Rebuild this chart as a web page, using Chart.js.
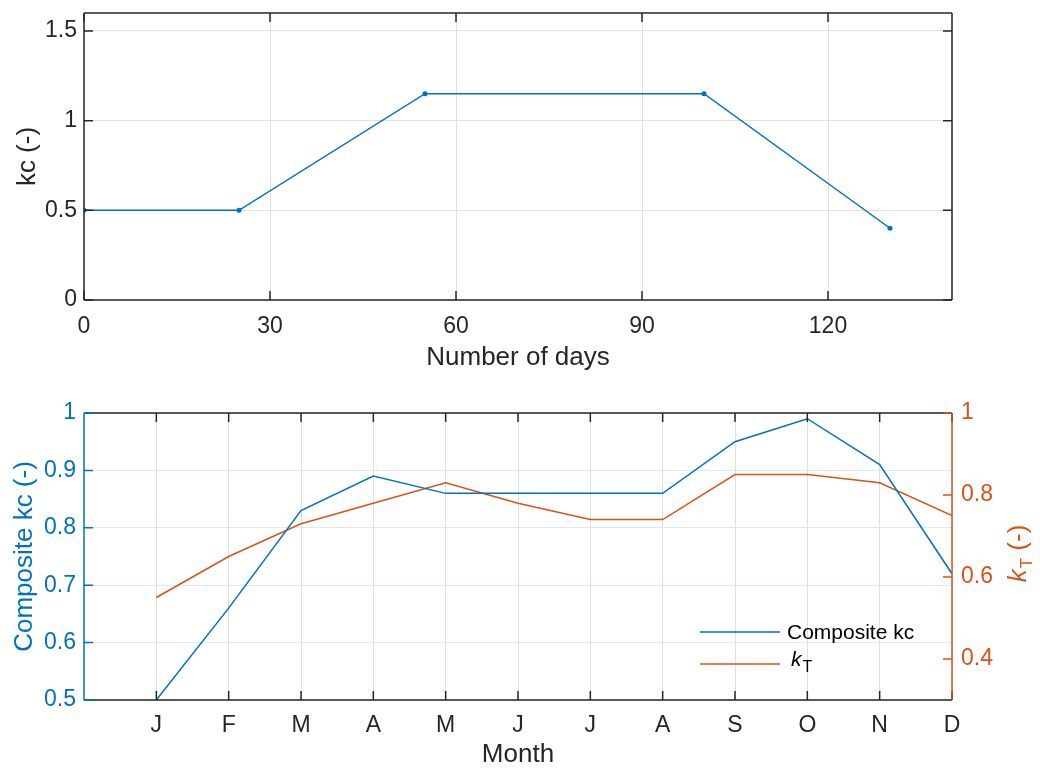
<!DOCTYPE html>
<html>
<head>
<meta charset="utf-8">
<script src="https://cdn.jsdelivr.net/npm/chart.js@4.4.1/dist/chart.umd.min.js"></script>
<style>
  html, body { margin: 0; padding: 0; background: #fff; }
  #wrap { position: relative; width: 1040px; height: 770px; }
  canvas { position: absolute; left: 0; }
  #top { top: 0; }
  #bottom { top: 385px; }
</style>
</head>
<body>
<div id="wrap">
  <canvas id="top" width="1040" height="385"></canvas>
  <canvas id="bottom" width="1040" height="385"></canvas>
</div>
<script>
// top plot - kc curve over the season
const days = [0, 25, 55, 100, 130];
const kc = [0.5, 0.5, 1.15, 1.15, 0.4];
const dayTicks = [0, 30, 60, 90, 120];
const kcTicks = [0, 0.5, 1, 1.5];

// bottom plot - monthly values
const months = ['J', 'F', 'M', 'A', 'M', 'J', 'J', 'A', 'S', 'O', 'N', 'D'];
const compositeKc = [0.5, 0.66, 0.83, 0.89, 0.86, 0.86, 0.86, 0.86, 0.95, 0.99, 0.91, 0.72];
const kT = [0.55, 0.65, 0.73, 0.78, 0.83, 0.78, 0.74, 0.74, 0.85, 0.85, 0.83, 0.75];
const compTicks = [0.5, 0.6, 0.7, 0.8, 0.9, 1];
const kTTicks = [0.4, 0.6, 0.8, 1];

const BLUE = '#0072BD';
const ORANGE = '#D95319';
const AXIS = '#262626';
const FONT = "'Liberation Sans', Arial, Helvetica, sans-serif";

const setTicks = arr => s => { s.ticks = arr.map(v => ({ value: v })); };
// fixed axis size, and no extra padding for the edge labels
const fixSize = (key, val) => s => {
  s[key] = val;
  s.paddingTop = 0; s.paddingBottom = 0; s.paddingLeft = 0; s.paddingRight = 0;
};

// box + inward tick marks, matlab style
const frame = {
  id: 'frame',
  afterDraw(chart, args, opts) {
    const { ctx, chartArea: a, scales } = chart;
    const len = opts.tickLen;
    ctx.save();
    ctx.lineWidth = 1.5;
    opts.sides.forEach(s => {
      const sc = scales[s.scale];
      ctx.strokeStyle = s.color;
      ctx.beginPath();
      if (s.side === 'left') { ctx.moveTo(a.left, a.top); ctx.lineTo(a.left, a.bottom); }
      if (s.side === 'right') { ctx.moveTo(a.right, a.top); ctx.lineTo(a.right, a.bottom); }
      if (s.side === 'top') { ctx.moveTo(a.left, a.top); ctx.lineTo(a.right, a.top); }
      if (s.side === 'bottom') { ctx.moveTo(a.left, a.bottom); ctx.lineTo(a.right, a.bottom); }
      sc.ticks.forEach(t => {
        const p = sc.getPixelForValue(t.value);
        if (s.side === 'left') { ctx.moveTo(a.left, p); ctx.lineTo(a.left + len, p); }
        if (s.side === 'right') { ctx.moveTo(a.right, p); ctx.lineTo(a.right - len, p); }
        if (s.side === 'top') { ctx.moveTo(p, a.top); ctx.lineTo(p, a.top + len); }
        if (s.side === 'bottom') { ctx.moveTo(p, a.bottom); ctx.lineTo(p, a.bottom - len); }
      });
      ctx.stroke();
    });
    ctx.restore();
  }
};

// draws "k" italic with subscript T, returns width
function drawKT(ctx, x, y, size, subSize, rest) {
  ctx.font = 'italic ' + size + 'px ' + FONT;
  ctx.fillText('k', x, y);
  let w = ctx.measureText('k').width + 1;
  ctx.font = subSize + 'px ' + FONT;
  ctx.fillText('T', x + w, y + subSize * 0.35);
  w += ctx.measureText('T').width;
  if (rest) {
    ctx.font = size + 'px ' + FONT;
    ctx.fillText(rest, x + w, y);
    w += ctx.measureText(rest).width;
  }
  return w;
}

function kTWidth(ctx, size, subSize, rest) {
  ctx.font = 'italic ' + size + 'px ' + FONT;
  let w = ctx.measureText('k').width + 1;
  ctx.font = subSize + 'px ' + FONT;
  w += ctx.measureText('T').width;
  if (rest) {
    ctx.font = size + 'px ' + FONT;
    w += ctx.measureText(rest).width;
  }
  return w;
}

// right axis title and legend for the bottom plot
const extras = {
  id: 'extras',
  afterDraw(chart) {
    const { ctx, chartArea: a } = chart;
    ctx.save();
    ctx.fillStyle = ORANGE;
    ctx.textBaseline = 'alphabetic';
    ctx.textAlign = 'left';
    ctx.translate(a.right + 74, (a.top + a.bottom) / 2 - 3);
    ctx.rotate(-Math.PI / 2);
    const tw = kTWidth(ctx, 26, 17, ' (-)');
    drawKT(ctx, -tw / 2, 0, 26, 17, ' (-)');
    ctx.restore();

    // legend (no box)
    const ds = chart.data.datasets;
    const lx = a.right - 252, ly = a.bottom - 68;
    ctx.save();
    ctx.lineWidth = 1.5;
    ds.forEach((d, i) => {
      const y = ly + i * 32;
      ctx.strokeStyle = d.borderColor;
      ctx.beginPath();
      ctx.moveTo(lx, y);
      ctx.lineTo(lx + 80, y);
      ctx.stroke();
      ctx.fillStyle = '#000';
      if (d.label === 'k_T') {
        ctx.textBaseline = 'alphabetic';
        drawKT(ctx, lx + 91, y + 2, 21, 16);
      } else {
        ctx.textBaseline = 'middle';
        ctx.font = '21px ' + FONT;
        ctx.fillText(d.label, lx + 87, y + 1);
      }
    });
    ctx.restore();
  }
};

new Chart(document.getElementById('top'), {
  type: 'line',
  data: {
    datasets: [{
      data: days.map((d, i) => ({ x: d, y: kc[i] })),
      borderColor: BLUE,
      backgroundColor: BLUE,
      borderWidth: 1.5,
      pointRadius: 2.5,
      pointBorderWidth: 0,
      tension: 0
    }]
  },
  options: {
    responsive: false,
    animation: false,
    layout: { padding: { top: 13, right: 88, left: 0, bottom: 0 } },
    plugins: {
      legend: { display: false },
      tooltip: { enabled: false },
      frame: {
        tickLen: 9,
        sides: [
          { side: 'bottom', scale: 'x', color: AXIS },
          { side: 'top', scale: 'x', color: AXIS },
          { side: 'left', scale: 'y', color: AXIS },
          { side: 'right', scale: 'y', color: AXIS }
        ]
      }
    },
    scales: {
      x: {
        type: 'linear', min: 0, max: 140,
        afterBuildTicks: setTicks(dayTicks),
        afterFit: fixSize('height', 85),
        grid: { color: '#e0e0e0', lineWidth: 1, drawTicks: false },
        border: { display: false },
        ticks: { padding: 13, color: AXIS, maxRotation: 0, font: { family: FONT, size: 23 }, callback: v => String(v) },
        title: { display: true, text: 'Number of days', color: AXIS, font: { family: FONT, size: 26 }, padding: { top: 0, bottom: 12 } }
      },
      y: {
        min: 0, max: 1.6,
        afterBuildTicks: setTicks(kcTicks),
        afterFit: fixSize('width', 84),
        grid: { color: '#e0e0e0', lineWidth: 1, drawTicks: false },
        border: { display: false },
        ticks: { padding: 7, color: AXIS, font: { family: FONT, size: 23 }, callback: v => String(v) },
        title: { display: true, text: 'kc (-)', color: AXIS, font: { family: FONT, size: 26 }, padding: { top: 12, bottom: 0 } }
      }
    }
  },
  plugins: [frame]
});

new Chart(document.getElementById('bottom'), {
  type: 'line',
  data: {
    datasets: [{
      label: 'Composite kc',
      data: months.map((m, i) => ({ x: i + 1, y: compositeKc[i] })),
      yAxisID: 'y',
      borderColor: BLUE,
      borderWidth: 1.5,
      pointRadius: 0,
      tension: 0
    }, {
      label: 'k_T',
      data: months.map((m, i) => ({ x: i + 1, y: kT[i] })),
      yAxisID: 'y2',
      borderColor: ORANGE,
      borderWidth: 1.5,
      pointRadius: 0,
      tension: 0
    }]
  },
  options: {
    responsive: false,
    animation: false,
    layout: { padding: { top: 28, right: 0, left: 0, bottom: 0 } },
    plugins: {
      legend: { display: false },
      tooltip: { enabled: false },
      frame: {
        tickLen: 9,
        sides: [
          { side: 'bottom', scale: 'x', color: AXIS },
          { side: 'top', scale: 'x', color: AXIS },
          { side: 'left', scale: 'y', color: BLUE },
          { side: 'right', scale: 'y2', color: ORANGE }
        ]
      }
    },
    scales: {
      x: {
        type: 'linear', min: 0, max: 12,
        afterBuildTicks: setTicks(months.map((m, i) => i + 1)),
        afterFit: fixSize('height', 70),
        grid: { color: '#dcdfe3', lineWidth: 1, drawTicks: false },
        border: { display: false },
        ticks: { padding: 12, color: AXIS, maxRotation: 0, font: { family: FONT, size: 23 }, callback: v => months[v - 1] },
        title: { display: true, text: 'Month', color: AXIS, font: { family: FONT, size: 26 }, padding: { top: 0, bottom: 0 } }
      },
      y: {
        position: 'left',
        min: 0.5, max: 1,
        afterBuildTicks: setTicks(compTicks),
        afterFit: fixSize('width', 84),
        grid: { color: '#d9eaf5', lineWidth: 1, drawTicks: false },
        border: { display: false },
        ticks: { padding: 8, color: BLUE, font: { family: FONT, size: 23 }, callback: v => String(v) },
        title: { display: true, text: 'Composite kc (-)', color: BLUE, font: { family: FONT, size: 26 }, padding: { top: 9, bottom: 0 } }
      },
      y2: {
        position: 'right',
        min: 0.3, max: 1,
        afterBuildTicks: setTicks(kTTicks),
        afterFit: fixSize('width', 88),
        grid: { display: false, drawTicks: false },
        border: { display: false },
        ticks: { padding: 9, color: ORANGE, font: { family: FONT, size: 23 }, callback: v => String(v) },
        title: { display: false }
      }
    }
  },
  plugins: [frame, extras]
});
</script>
</body>
</html>
